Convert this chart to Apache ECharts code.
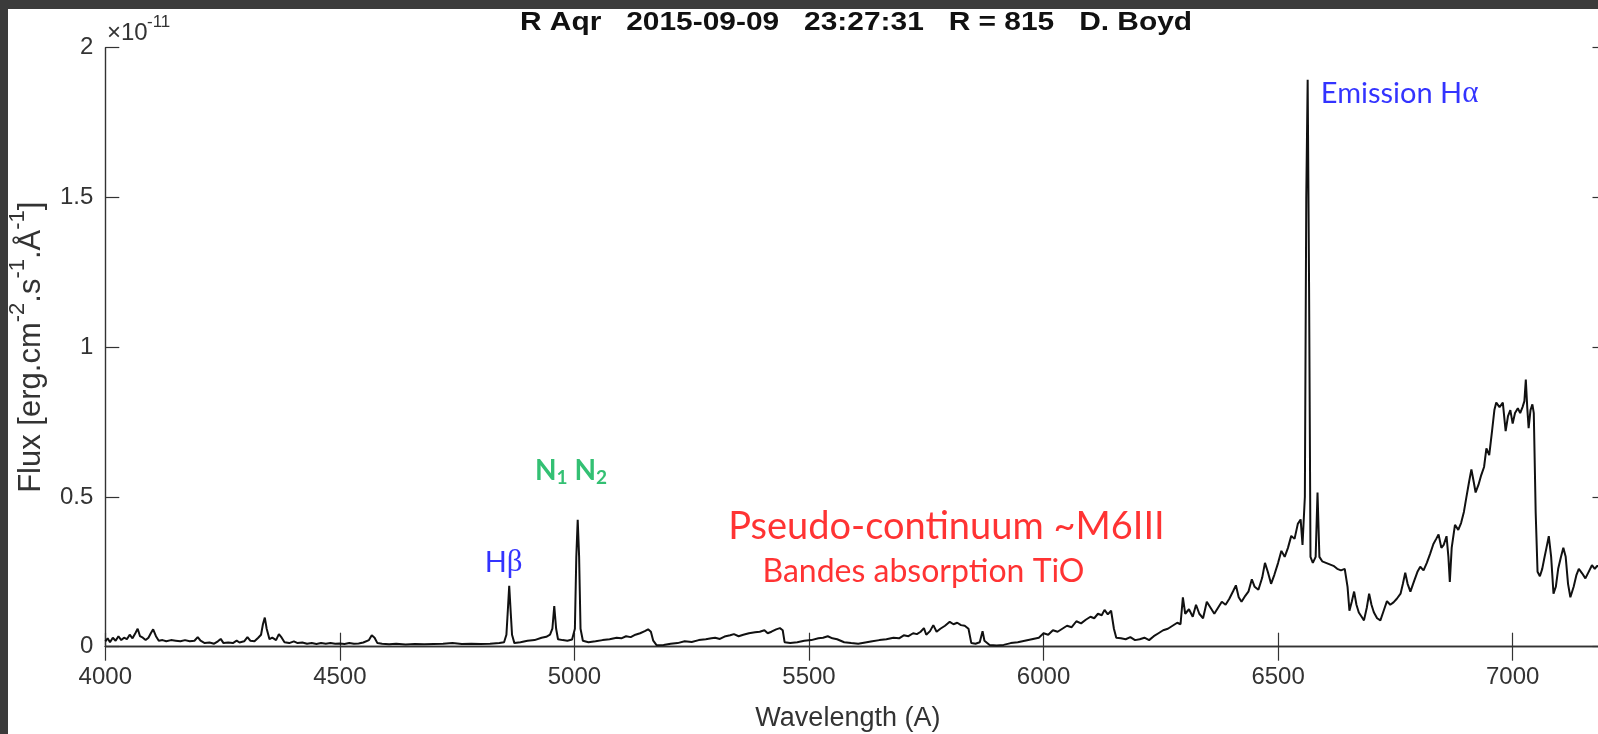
<!DOCTYPE html>
<html>
<head>
<meta charset="utf-8">
<script src="https://cdn.jsdelivr.net/npm/echarts@6/dist/echarts.min.js"></script>
<style>
  html, body { margin: 0; padding: 0; width: 1598px; height: 734px; overflow: hidden; background: #3b3b3b; }
  #chart { position: absolute; left: 8px; top: 9px; width: 1590px; height: 725px; background: #ffffff; }
</style>
</head>
<body>
<div id="chart"></div>
<script>
// R Aqr spectrum, 2015-09-09 23:27:31, R = 815 (D. Boyd)
// Wavelength in Angstrom, flux in units of 1e-11 erg/cm2/s/A
const wavelength = [
  4000, 4005, 4010, 4016, 4022, 4028, 4034, 4040, 4046, 4052, 4058, 4064, 4069, 4074, 4080, 4086, 4092, 4097, 4102, 4108,
  4114, 4122, 4130, 4140, 4150, 4160, 4170, 4180, 4190, 4197, 4203, 4212, 4222, 4232, 4240, 4246, 4252, 4262, 4272, 4280,
  4286, 4296, 4303, 4309, 4318, 4326, 4332, 4336, 4340, 4344, 4350, 4356, 4364, 4370, 4376, 4382, 4392, 4402, 4410, 4420,
  4430, 4440, 4450, 4460, 4470, 4480, 4490, 4500, 4510, 4520, 4530, 4540, 4550, 4562, 4568, 4574, 4580, 4590, 4605, 4620,
  4640, 4660, 4680, 4700, 4720, 4740, 4760, 4780, 4800, 4820, 4840, 4850, 4855, 4858, 4861, 4864, 4867, 4872, 4885, 4900,
  4915, 4930, 4940, 4948, 4953, 4957, 4961, 4965, 4975, 4985, 4995, 5001, 5004, 5007, 5010, 5013, 5018, 5030, 5045, 5060,
  5075, 5090, 5100, 5110, 5120, 5130, 5140, 5150, 5157, 5163, 5168, 5175, 5190, 5205, 5220, 5235, 5250, 5265, 5280, 5292,
  5300, 5310, 5320, 5332, 5340, 5350, 5360, 5372, 5385, 5395, 5405, 5412, 5420, 5430, 5438, 5444, 5448, 5460, 5475, 5490,
  5505, 5520, 5530, 5540, 5550, 5560, 5575, 5590, 5605, 5620, 5635, 5650, 5665, 5680, 5692, 5702, 5712, 5722, 5730, 5738,
  5745, 5750, 5758, 5765, 5772, 5780, 5790, 5800, 5808, 5816, 5824, 5832, 5840, 5846, 5855, 5864, 5870, 5874, 5885, 5900,
  5915, 5930, 5945, 5960, 5975, 5990, 6000, 6010, 6020, 6030, 6040, 6050, 6060, 6070, 6080, 6090, 6100, 6108, 6116, 6124,
  6130, 6137, 6144, 6150, 6155, 6165, 6175, 6185, 6195, 6205, 6215, 6225, 6235, 6245, 6255, 6265, 6275, 6285, 6292, 6297,
  6302, 6310, 6318, 6325, 6332, 6340, 6348, 6356, 6364, 6372, 6380, 6388, 6396, 6404, 6410, 6416, 6422, 6430, 6437, 6444,
  6450, 6458, 6466, 6472, 6478, 6485, 6492, 6500, 6507, 6514, 6521, 6528, 6535, 6542, 6548, 6552, 6557, 6560, 6563, 6566,
  6569, 6574, 6580, 6584, 6588, 6594, 6602, 6610, 6618, 6626, 6634, 6642, 6648, 6652, 6657, 6662, 6667, 6672, 6678, 6683,
  6689, 6694, 6699, 6704, 6711, 6718, 6725, 6732, 6739, 6746, 6753, 6761, 6766, 6771, 6776, 6782, 6790, 6797, 6803, 6810,
  6817, 6824, 6831, 6837, 6842, 6848, 6853, 6859, 6863, 6866, 6870, 6877, 6884, 6890, 6896, 6901, 6907, 6912, 6917, 6921,
  6927, 6933, 6939, 6944, 6950, 6956, 6961, 6965, 6972, 6979, 6985, 6990, 6995, 7000, 7005, 7011, 7016, 7021, 7025, 7028,
  7031, 7034, 7038, 7042, 7045, 7049, 7053, 7058, 7063, 7067, 7072, 7077, 7082, 7087, 7092, 7097, 7103, 7108, 7113, 7118,
  7123, 7130, 7136, 7141, 7148, 7155, 7162, 7169, 7175, 7180, 7190, 7200
];

const flux = [
  0.018, 0.028, 0.015, 0.030, 0.020, 0.035, 0.022, 0.030, 0.025, 0.040, 0.028, 0.045, 0.060, 0.035, 0.030, 0.022, 0.030, 0.045, 0.058, 0.035,
  0.020, 0.022, 0.018, 0.022, 0.020, 0.018, 0.022, 0.018, 0.020, 0.032, 0.020, 0.012, 0.014, 0.010, 0.018, 0.026, 0.012, 0.014, 0.012, 0.020,
  0.014, 0.018, 0.032, 0.020, 0.018, 0.030, 0.040, 0.075, 0.097, 0.060, 0.025, 0.030, 0.022, 0.042, 0.030, 0.015, 0.012, 0.018, 0.012, 0.014,
  0.010, 0.012, 0.009, 0.012, 0.010, 0.012, 0.010, 0.011, 0.009, 0.012, 0.010, 0.011, 0.014, 0.022, 0.038, 0.030, 0.012, 0.010, 0.008, 0.010,
  0.007, 0.009, 0.008, 0.009, 0.010, 0.012, 0.009, 0.010, 0.009, 0.010, 0.012, 0.015, 0.040, 0.120, 0.203, 0.120, 0.040, 0.012, 0.015, 0.020,
  0.022, 0.030, 0.033, 0.040, 0.060, 0.136, 0.060, 0.025, 0.022, 0.020, 0.024, 0.060, 0.300, 0.424, 0.300, 0.060, 0.020, 0.015, 0.018, 0.022,
  0.025, 0.030, 0.028, 0.035, 0.032, 0.040, 0.045, 0.052, 0.058, 0.050, 0.020, 0.005, 0.006, 0.010, 0.012, 0.018, 0.016, 0.022, 0.025, 0.028,
  0.030, 0.026, 0.034, 0.038, 0.042, 0.035, 0.040, 0.045, 0.048, 0.050, 0.055, 0.045, 0.050, 0.058, 0.062, 0.055, 0.015, 0.012, 0.015, 0.020,
  0.022, 0.028, 0.030, 0.035, 0.028, 0.025, 0.015, 0.012, 0.010, 0.014, 0.018, 0.022, 0.025, 0.030, 0.028, 0.038, 0.035, 0.045, 0.042, 0.050,
  0.062, 0.040, 0.052, 0.072, 0.050, 0.060, 0.070, 0.083, 0.075, 0.080, 0.072, 0.070, 0.060, 0.012, 0.010, 0.015, 0.052, 0.020, 0.006, 0.004,
  0.006, 0.012, 0.015, 0.020, 0.025, 0.030, 0.045, 0.040, 0.055, 0.050, 0.060, 0.070, 0.065, 0.085, 0.078, 0.090, 0.100, 0.095, 0.110, 0.105,
  0.123, 0.108, 0.120, 0.060, 0.030, 0.028, 0.025, 0.032, 0.022, 0.025, 0.030, 0.022, 0.035, 0.045, 0.055, 0.060, 0.070, 0.080, 0.075, 0.165,
  0.110, 0.125, 0.100, 0.140, 0.110, 0.095, 0.150, 0.130, 0.110, 0.130, 0.150, 0.140, 0.160, 0.185, 0.205, 0.165, 0.150, 0.170, 0.185, 0.225,
  0.200, 0.190, 0.230, 0.280, 0.250, 0.210, 0.240, 0.280, 0.320, 0.300, 0.330, 0.370, 0.360, 0.410, 0.425, 0.340, 0.500, 1.500, 1.893, 1.200,
  0.300, 0.280, 0.300, 0.515, 0.300, 0.285, 0.280, 0.275, 0.270, 0.260, 0.255, 0.260, 0.200, 0.120, 0.150, 0.184, 0.140, 0.114, 0.100, 0.088,
  0.130, 0.177, 0.140, 0.115, 0.095, 0.088, 0.120, 0.152, 0.140, 0.148, 0.160, 0.177, 0.210, 0.247, 0.210, 0.184, 0.220, 0.250, 0.267, 0.255,
  0.280, 0.310, 0.343, 0.360, 0.375, 0.330, 0.340, 0.369, 0.300, 0.216, 0.330, 0.407, 0.390, 0.413, 0.450, 0.496, 0.550, 0.592, 0.550, 0.515,
  0.540, 0.573, 0.600, 0.662, 0.640, 0.720, 0.790, 0.815, 0.800, 0.815, 0.720, 0.770, 0.790, 0.745, 0.780, 0.796, 0.780, 0.800, 0.820, 0.892,
  0.800, 0.730, 0.790, 0.809, 0.780, 0.450, 0.250, 0.235, 0.260, 0.292, 0.330, 0.369, 0.300, 0.177, 0.200, 0.260, 0.300, 0.330, 0.300, 0.210,
  0.165, 0.200, 0.240, 0.260, 0.245, 0.228, 0.250, 0.272, 0.260, 0.270, 0.265, 0.280
];

const xTickValues = [4000, 4500, 5000, 5500, 6000, 6500, 7000];
const xTickLabels = ['4000', '4500', '5000', '5500', '6000', '6500', '7000'];
const yTickValues = [0, 0.5, 1, 1.5, 2];
const yTickLabels = ['0', '0.5', '1', '1.5', '2'];

const titleText = 'R Aqr   2015-09-09   23:27:31   R = 815   D. Boyd';
const xName = 'Wavelength (A)';

const AXIS_FONT = 'Liberation Sans, Arial, Helvetica, sans-serif';
const NOTE_FONT = 'Lato, Carlito, Calibri, sans-serif';
const GREEK_FONT = 'Liberation Serif, Times New Roman, serif';
const AXIS_COLOR = '#333333';

function tickLabel(values, labels) {
  return function (v) {
    for (let i = 0; i < values.length; i++) {
      if (Math.abs(values[i] - v) < 1e-9) return labels[i];
    }
    return '';
  };
}

const spectrum = wavelength.map((w, i) => [w, flux[i]]);

const grid = { left: 97.3, top: 38.7, width: 1501.2, height: 599, outerBoundsMode: 'none', containLabel: false };

const axisLine = { show: true, lineStyle: { color: AXIS_COLOR, width: 1.4 } };
const axisTick = { show: true, inside: true, length: 14, lineStyle: { color: AXIS_COLOR, width: 1.2 } };

// Annotation labels, anchored in data coordinates
const notes = [
  { value: [6591, 1.846], text: '{t|Emission H}{g|α}', align: 'left' },
  { value: [4849, 0.28], text: '{t|H}{g|β}', align: 'center' },
  { value: [4916, 0.587], text: '{n|N}{s|1}{n| N}{s|2}', align: 'left' },
  { value: [5793, 0.40], text: '{big|Pseudo-continuum ~M6III}', align: 'center' },
  { value: [5744, 0.25], text: '{small|Bandes absorption TiO}', align: 'center' }
];

const chart = echarts.init(document.getElementById('chart'), null, { renderer: 'canvas' });

chart.setOption({
  animation: false,
  backgroundColor: '#ffffff',
  grid: grid,
  graphic: [
    {
      type: 'text',
      x: 848, y: 14,
      scaleX: 1.15,
      style: {
        x: 0, y: 0,
        text: titleText,
        font: 'bold 26px ' + AXIS_FONT,
        fill: '#111111',
        textAlign: 'center',
        textVerticalAlign: 'middle'
      }
    },
    {
      type: 'text',
      style: {
        x: 99, y: 24,
        text: '×10',
        font: '24px ' + AXIS_FONT,
        fill: AXIS_COLOR,
        textAlign: 'left',
        textVerticalAlign: 'middle'
      }
    },
    {
      type: 'text',
      style: {
        x: 139, y: 13,
        text: '-11',
        font: '17px ' + AXIS_FONT,
        fill: AXIS_COLOR,
        textAlign: 'left',
        textVerticalAlign: 'middle'
      }
    }
  ],
  xAxis: [
    {
      type: 'value', position: 'bottom', min: 4000, max: 7200, interval: 500,
      axisLine: axisLine, axisTick: axisTick, splitLine: { show: false },
      axisLabel: {
        show: true, margin: 19, showMaxLabel: false,
        fontFamily: AXIS_FONT, fontSize: 24, color: AXIS_COLOR,
        formatter: tickLabel(xTickValues, xTickLabels)
      },
      name: xName, nameLocation: 'middle', nameGap: 58,
      nameTextStyle: { fontFamily: AXIS_FONT, fontSize: 27, color: AXIS_COLOR, padding: [0, 16, 0, 0] }
    },
    {
      type: 'value', position: 'top', min: 4000, max: 7200, interval: 500,
      axisLine: axisLine, axisTick: axisTick, splitLine: { show: false },
      axisLabel: { show: false }
    }
  ],
  yAxis: [
    {
      type: 'value', position: 'left', min: 0, max: 2, interval: 0.5,
      axisLine: axisLine, axisTick: axisTick, splitLine: { show: false },
      axisLabel: {
        show: true, margin: 12,
        fontFamily: AXIS_FONT, fontSize: 24, color: AXIS_COLOR,
        formatter: tickLabel(yTickValues, yTickLabels)
      },
      name: '{n|Flux [erg.cm}{s|-2}{n|.s}{s|-1}{n|.Å}{s|-1}{n|]}',
      nameLocation: 'middle', nameRotate: 90, nameGap: 58,
      nameTextStyle: {
        fontFamily: AXIS_FONT, fontSize: 31, color: AXIS_COLOR,
        rich: {
          n: { fontFamily: AXIS_FONT, fontSize: 31, color: AXIS_COLOR, lineHeight: 40, verticalAlign: 'bottom' },
          s: { fontFamily: AXIS_FONT, fontSize: 22, color: AXIS_COLOR, lineHeight: 22, verticalAlign: 'top' }
        }
      }
    },
    {
      type: 'value', position: 'right', min: 0, max: 2, interval: 0.5,
      axisLine: axisLine, axisTick: axisTick, splitLine: { show: false },
      axisLabel: { show: false }
    }
  ],
  series: [
    {
      type: 'line',
      name: 'R Aqr',
      xAxisIndex: 0, yAxisIndex: 0,
      data: spectrum,
      showSymbol: false, symbol: 'none',
      sampling: null,
      lineStyle: { color: '#111111', width: 2 },
      z: 3
    },
    {
      type: 'scatter',
      name: 'notes',
      xAxisIndex: 0, yAxisIndex: 0,
      symbolSize: 0,
      silent: true,
      z: 4,
      data: notes.map(n => ({
        value: n.value,
        label: {
          show: true, position: 'inside', align: n.align, verticalAlign: 'middle',
          formatter: n.text
        }
      })),
      label: {
        rich: {
          t: { fontFamily: NOTE_FONT, fontSize: 29, color: '#0000ff' },
          g: { fontFamily: GREEK_FONT, fontSize: 31, color: '#0000ff' },
          n: { fontFamily: NOTE_FONT, fontSize: 28, fontWeight: 'bold', color: '#00b050', lineHeight: 32, verticalAlign: 'middle' },
          s: { fontFamily: NOTE_FONT, fontSize: 19, fontWeight: 'bold', color: '#00b050', lineHeight: 20, verticalAlign: 'bottom' },
          big: { fontFamily: NOTE_FONT, fontSize: 38, color: '#ff0000' },
          small: { fontFamily: NOTE_FONT, fontSize: 32, color: '#ff0000' }
        }
      }
    }
  ]
});
</script>
</body>
</html>
